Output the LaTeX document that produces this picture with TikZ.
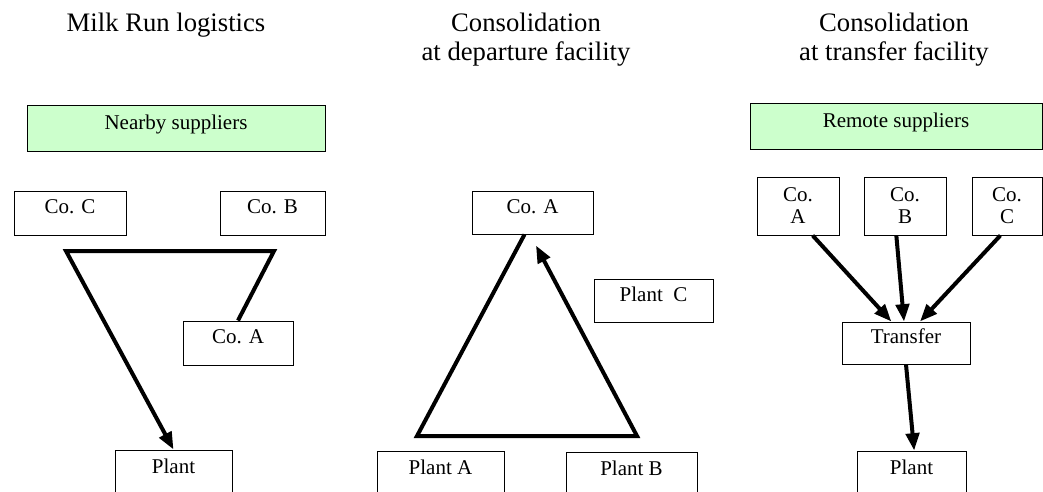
\documentclass[tikz,border=0pt]{standalone}
\usepackage{fontspec}
\setmainfont{Liberation Serif}
\usetikzlibrary{arrows.meta}
\definecolor{groupgreen}{RGB}{204,255,204}
\newcommand{\boxfont}{\fontsize{15.75}{16.5}\selectfont}
\newcommand{\titlefont}{\fontsize{20}{21.75}\selectfont}
\tikzset{
  box/.style={draw,line width=0.75pt,inner sep=0pt,text height=0.7em,text depth=0.6em,font=\boxfont},
  twoline/.style={draw,line width=0.75pt,inner sep=0pt,align=center,font=\boxfont},
  group/.style={box,fill=groupgreen},
  title/.style={align=center,anchor=north,inner sep=0pt,font=\titlefont},
  route/.style={line width=3pt},
  flow/.style={route,-{Triangle[length=13pt,width=10pt]}}
}

\begin{document}
\begin{tikzpicture}[x=0.75pt,y=-0.75pt]

    % -- Picture frame (pixel coordinates, y pointing down) --
    \useasboundingbox (0,0) rectangle (1043,492);
    \clip (0,0) rectangle (1043,492);

    % -- Column titles --
    \node[title] (tmilk) at (166,13) {Milk Run logistics};
    \node[title] (tdep) at (526,13) {Consolidation\\at departure facility};
    \node[title] (ttrans) at (894,13) {Consolidation\\at transfer facility};

    % -- Column 1: milk run --
    \node[group,minimum width=223.5pt,minimum height=33.75pt] (nearby) at (176,128.5) {Nearby suppliers};
    \node[box,minimum width=84pt,minimum height=33pt] (lcoc) at (70,213) {Co. C};
    \node[box,minimum width=78.75pt,minimum height=33pt] (lcob) at (272.5,213) {Co. B};
    \node[box,minimum width=82.5pt,minimum height=33pt] (lcoa) at (238,343) {Co. A};
    \node[box,minimum width=87.75pt,minimum height=33.75pt] (lplant) at (173.5,472.5) {Plant};

    \coordinate (lturn) at (274,251);   % corner below Co. B
    \coordinate (lback) at (66,251);    % corner below Co. C
    \draw[flow] (lcoa.north) -- (lturn) -- (lback) -- (lplant.north);

    % -- Column 2: consolidation at departure facility --
    \node[box,minimum width=90.75pt,minimum height=32.25pt] (mcoa) at (532.5,212.5) {Co. A};
    \node[box,minimum width=89.25pt,minimum height=32.25pt] (mplantc) at (653.5,300.5) {Plant~~C};
    \node[box,minimum width=95.25pt,minimum height=33.75pt] (mplanta) at (440.5,473.5) {Plant A};
    \node[box,minimum width=98.25pt,minimum height=33.75pt] (mplantb) at (631.5,474.5) {Plant B};

    \coordinate (mleft) at (417,436);
    \coordinate (mright) at (637,436);
    \draw[flow] ([xshift=-6pt]mcoa.south) -- (mleft) -- (mright) -- ([xshift=2.6pt,yshift=-8.25pt]mcoa.south);

    % -- Column 3: consolidation at transfer facility --
    \node[group,minimum width=219pt,minimum height=33.75pt] (remote) at (896,126.5) {Remote suppliers};
    \node[twoline,minimum width=61.5pt,minimum height=43.5pt] (rcoa) at (798,206) {Co.\\A};
    \node[twoline,minimum width=61.5pt,minimum height=43.5pt] (rcob) at (905,206) {Co.\\B};
    \node[twoline,minimum width=52.5pt,minimum height=43.5pt] (rcoc) at (1007,206) {Co.\\C};
    \node[box,minimum width=96pt,minimum height=31.5pt] (rtrans) at (906,343) {Transfer};
    \node[box,minimum width=81.75pt,minimum height=33.75pt] (rplant) at (911.5,473.5) {Plant};

    \draw[flow] ([xshift=11pt]rcoa.south) -- ([xshift=-11pt]rtrans.north);
    \draw[flow] ([xshift=-6.5pt]rcob.south) -- ([xshift=-1.5pt]rtrans.north);
    \draw[flow] ([xshift=-5pt]rcoc.south) -- ([xshift=10.5pt]rtrans.north);
    \draw[flow] (rtrans.south) -- ([xshift=2pt]rplant.north);

\end{tikzpicture}
\end{document}
